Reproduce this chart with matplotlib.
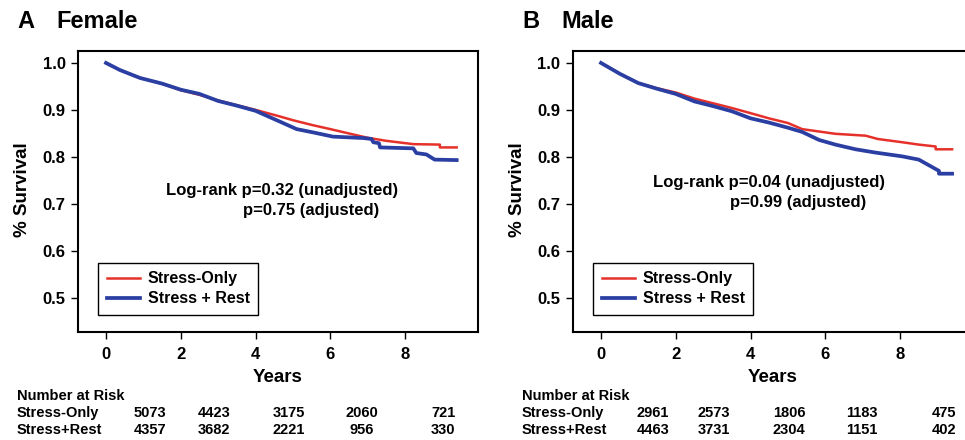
import matplotlib
matplotlib.use("Agg")
import matplotlib.pyplot as plt

plt.rcParams['font.family'] = ['Liberation Sans', 'DejaVu Sans']
plt.rcParams['font.weight'] = 'bold'

# ---- data ----
female_so_t = [0, 0.37, 0.91, 1.5, 2, 2.5, 3, 3.5, 4, 4.65, 5, 5.5, 6, 6.43, 6.97, 7.5, 8.22, 8.93, 8.93, 9.38]
female_so_v = [1.0, 0.985, 0.968, 0.956, 0.942, 0.932, 0.920, 0.910, 0.900, 0.886, 0.878, 0.868, 0.859, 0.851, 0.841, 0.834, 0.827, 0.826, 0.820, 0.820]
female_sr_t = [0, 0.37, 0.91, 1.5, 2, 2.5, 3, 3.5, 4, 4.65, 5.1, 5.54, 6.07, 6.88, 7.1, 7.15, 7.3, 7.33, 8.22, 8.3, 8.57, 8.79, 9.38]
female_sr_v = [1.0, 0.985, 0.968, 0.956, 0.943, 0.934, 0.919, 0.909, 0.898, 0.875, 0.859, 0.852, 0.843, 0.840, 0.838, 0.831, 0.829, 0.820, 0.818, 0.808, 0.805, 0.794, 0.793]

male_so_t = [0, 0.5, 1, 1.5, 2, 2.5, 3, 3.5, 4, 4.49, 5.0, 5.38, 6.27, 7.08, 7.4, 8.06, 8.5, 8.95, 8.95, 9.39]
male_so_v = [1.0, 0.977, 0.957, 0.946, 0.937, 0.924, 0.914, 0.904, 0.893, 0.882, 0.872, 0.859, 0.849, 0.845, 0.838, 0.831, 0.826, 0.822, 0.816, 0.816]
male_sr_t = [0, 0.5, 1, 1.5, 2, 2.5, 3, 3.5, 4, 4.49, 5.0, 5.38, 5.83, 6.27, 6.81, 7.34, 8.05, 8.5, 8.86, 9.04, 9.04, 9.39]
male_sr_v = [1.0, 0.977, 0.957, 0.945, 0.934, 0.918, 0.908, 0.897, 0.882, 0.873, 0.862, 0.853, 0.836, 0.826, 0.816, 0.809, 0.801, 0.794, 0.778, 0.770, 0.764, 0.764]

series_labels = ["Stress-Only", "Stress + Rest"]
risk_rows = ["Stress-Only", "Stress+Rest"]
female_risk_so = [5073, 4423, 3175, 2060, 721]
female_risk_sr = [4357, 3682, 2221, 956, 330]
male_risk_so = [2961, 2573, 1806, 1183, 475]
male_risk_sr = [4463, 3731, 2304, 1151, 402]

RED = '#e5312a'
BLUE = '#2b3fa3'

W, H = 965, 440
fig = plt.figure(figsize=(W / 100, H / 100), dpi=100)


def fx(px):
    return px / W


def fy(py):
    return 1 - py / H


def panel(left_px, letter, title, so_t, so_v, sr_t, sr_v, p1, p2, ann1, ann2,
          risk_so, risk_sr, risk_x, label_x, ylab_x, legend_x):
    ax = fig.add_axes([fx(left_px), fy(332), 400 / W, 281 / H])
    ax.plot(so_t, so_v, color=RED, lw=1.8, label=series_labels[0])
    ax.plot(sr_t, sr_v, color=BLUE, lw=2.7, label=series_labels[1])
    ax.set_xlim(-0.75, 9.95)
    ax.set_ylim(0.4266, 1.0255)
    ax.set_xticks([0, 2, 4, 6, 8])
    ax.set_yticks([0.5, 0.6, 0.7, 0.8, 0.9, 1.0])
    ax.set_yticklabels(['0.5', '0.6', '0.7', '0.8', '0.9', '1.0'])
    ax.tick_params(axis='both', labelsize=12, length=5, width=1, direction='out', pad=4)
    ax.tick_params(axis='x', pad=6)
    for s in ax.spines.values():
        s.set_linewidth(1.5)
    ax.set_xlabel('Years', fontsize=13.5, fontweight='bold', labelpad=5)
    ax.set_ylabel('% Survival', fontsize=13.5, fontweight='bold')
    ax.yaxis.set_label_coords((ylab_x + 9.5 - left_px) / 400, (332 - 190) / 281)
    leg = ax.legend(loc='lower left', bbox_to_anchor=((legend_x - left_px) / 400, (332 - 315) / 281),
                    borderaxespad=0, fancybox=False, edgecolor='black', framealpha=1,
                    handlelength=2.1, handletextpad=0.45, labelspacing=0.3,
                    borderpad=0.55, prop={'weight': 'bold', 'size': 11.5})
    leg.get_frame().set_linewidth(1.0)
    fig.text(fx(ann1[0]), fy(ann1[1]), p1, fontsize=12, fontweight='bold', va='center', ha='left')
    fig.text(fx(ann2[0]), fy(ann2[1]), p2, fontsize=12, fontweight='bold', va='center', ha='left')
    # titles
    fig.text(fx(label_x), fy(22), letter, fontsize=17, fontweight='bold', va='center', ha='left')
    fig.text(fx(label_x + 39), fy(22), title, fontsize=17, fontweight='bold', va='center', ha='left')
    # number at risk
    fig.text(fx(label_x), fy(396), 'Number at Risk', fontsize=10.5, fontweight='bold', va='center')
    fig.text(fx(label_x), fy(413), risk_rows[0], fontsize=10.5, fontweight='bold', va='center')
    fig.text(fx(label_x), fy(430), risk_rows[1], fontsize=10.5, fontweight='bold', va='center')
    for xp, a, b in zip(risk_x, risk_so, risk_sr):
        fig.text(fx(xp), fy(413), str(a), fontsize=10.5, fontweight='bold', va='center', ha='center')
        fig.text(fx(xp), fy(430), str(b), fontsize=10.5, fontweight='bold', va='center', ha='center')
    return ax


panel(78, 'A', 'Female', female_so_t, female_so_v, female_sr_t, female_sr_v,
      'Log-rank p=0.32 (unadjusted)', 'p=0.75 (adjusted)', (166, 190), (243, 211),
      female_risk_so, female_risk_sr, [150, 214, 289, 362, 443], 17, 22, 98)
panel(573, 'B', 'Male', male_so_t, male_so_v, male_sr_t, male_sr_v,
      'Log-rank p=0.04 (unadjusted)', 'p=0.99 (adjusted)', (653, 182), (730, 202),
      male_risk_so, male_risk_sr, [653, 714, 789, 862, 944], 522, 517, 593)

fig.savefig('out.png', dpi=100)
